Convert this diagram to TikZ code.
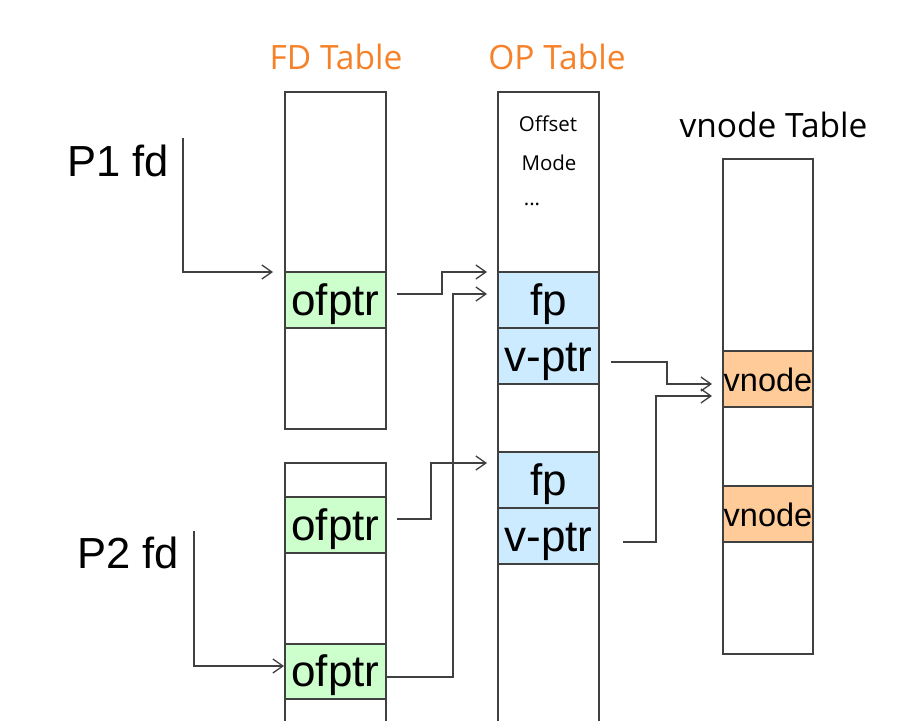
\documentclass[tikz,border=0pt]{standalone}
\usepackage{fontspec}
\setmainfont{Liberation Sans}
\newfontfamily\seg{Open Sans}
\usetikzlibrary{arrows.meta}
\definecolor{ln}{HTML}{404040}
\definecolor{orng}{HTML}{F5822A}
\definecolor{cgreen}{HTML}{CCFFCC}
\definecolor{cblue}{HTML}{CCEBFF}
\definecolor{corange}{HTML}{FFCC99}
\begin{document}
\begin{tikzpicture}[x=1pt,y=-1pt,
  tbl/.style={draw=ln, line width=1.3pt, fill=white, anchor=north west, inner sep=0pt, outer sep=0pt},
  cell/.style={draw=ln, line width=1.3pt, anchor=north west, inner sep=0pt, outer sep=0pt,
     font=\fontsize{44}{44}\selectfont, text height=30pt, text depth=0pt},
  vcell/.style={cell, fill=corange, minimum width=90pt, minimum height=56pt, text width=90pt, align=center,
     font=\fontsize{32.5}{33}\selectfont, text height=24pt},
  gcell/.style={cell, fill=cgreen, minimum width=101pt, minimum height=56pt},
  bcell/.style={cell, fill=cblue, minimum width=101pt, minimum height=56pt},
  conn/.style={draw=ln, line width=1.3pt, -{Straight Barb[length=10pt,width=14pt]}},
  title/.style={anchor=base, font=\seg\fontsize{33.5}{34}\selectfont},
  lbl/.style={anchor=base west, font=\fontsize{43.5}{44}\selectfont},
  small/.style={anchor=base, font=\seg\fontsize{20.5}{21}\selectfont}
]
\clip (0,0) rectangle (902,720);
\fill[white] (0,0) rectangle (902,720);

% titles
\node[title, text=orng] (tfd) at (336,69) {FD Table};
\node[title, text=orng] (top) at (557,69) {OP Table};
\node[title, text=black] (tvn) at (773.5,137) {vnode Table};

% labels
\node[lbl] (p1) at (64,176) {P1 fd};
\node[lbl] (p2) at (74,568) {P2 fd};

% tables
\node[tbl, minimum width=101pt, minimum height=337pt] (fdA) at (285,92) {};
\node[tbl, minimum width=101pt, minimum height=300pt] (fdB) at (285,463) {};
\node[tbl, minimum width=101pt, minimum height=680pt] (opT) at (498,92) {};
\node[tbl, minimum width=90pt, minimum height=495pt] (vnT) at (723,159) {};

% OP table header texts
\node[small] (off) at (548,131) {Offset};
\node[small] (mode) at (549,170) {Mode};
\node[small] (dots) at (532,205) {...};

% cells
\node[gcell] (ofA) at (285,272) {ofptr};
\node[gcell] (ofB) at (285,497) {ofptr};
\node[gcell, minimum height=55pt] (ofC) at (285,644) {ofptr};
\node[bcell] (fpA) at (498,272) {fp};
\node[bcell] (vpA) at (498,328) {v-ptr};
\node[bcell] (fpB) at (498,452) {fp};
\node[bcell] (vpB) at (498,508) {v-ptr};
\node[vcell] (vnA) at (723,351) {vnode};
\node[vcell] (vnB) at (723,486) {vnode};

% connectors
\coordinate (p1s) at (183,138);
\coordinate (p2s) at (194,531);
\draw[conn] (p1s) |- ([xshift=-12pt]ofA.north west);
\draw[conn] (p2s) |- ([xshift=-1pt,yshift=5.5pt]ofC.west);
\draw[conn] ([xshift=11pt,yshift=6pt]ofA.east) -- ++(45,0) |- ([xshift=-11pt]fpA.north west);
\draw[conn] ([yshift=-5.5pt]ofC.east) -- ++(67,0) |- ([xshift=-11pt,yshift=6pt]fpA.west);
\draw[conn] ([xshift=11pt,yshift=6pt]ofB.east) -- ++(34,0) |- ([xshift=-11pt,yshift=-11pt]fpB.north west);
\draw[conn] ([xshift=12pt,yshift=-6pt]vpA.east) -- ++(56,0) |- ([xshift=-11pt,yshift=-5pt]vnA.west);
\draw[conn] ([xshift=24pt,yshift=-6pt]vpB.east) -- ++(33,0) |- ([xshift=-11pt,yshift=-17pt]vnA.west);
\end{tikzpicture}
\end{document}
